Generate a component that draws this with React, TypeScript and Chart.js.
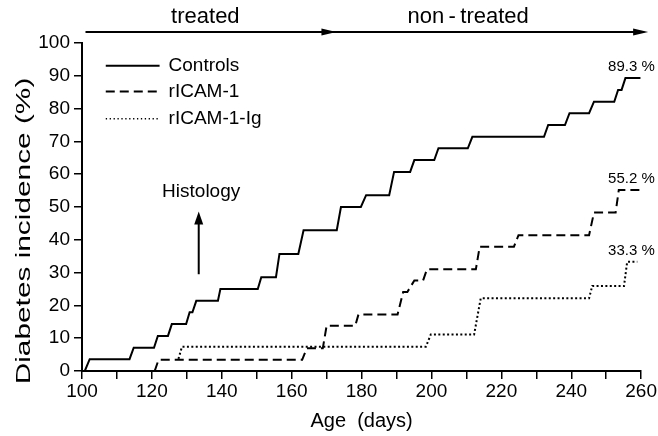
import React, { useEffect, useRef } from "react";
import { Chart, registerables } from "chart.js";

Chart.register(...registerables);

// ---- data ----
const controlsDays = [100.8, 102.2, 113.6, 114.8, 120.6, 121.7, 124.6, 125.7, 129.8, 130.8, 131.6, 132.7, 138.9, 139.6, 150.3, 151.3, 155.5, 156.5, 161.9, 163.4, 172.9, 174.1, 179.8, 181.3, 187.9, 189.3, 193.9, 195.1, 200.8, 202.0, 210.4, 211.7, 232.2, 233.4, 238.2, 239.5, 245.1, 246.5, 252.3, 253.4, 254.4, 255.5, 259.8];
const controlsPct = [0, 3.6, 3.6, 7.1, 7.1, 10.7, 10.7, 14.3, 14.3, 17.9, 17.9, 21.4, 21.4, 25.0, 25.0, 28.6, 28.6, 35.7, 35.7, 42.9, 42.9, 50.0, 50.0, 53.6, 53.6, 60.7, 60.7, 64.3, 64.3, 67.9, 67.9, 71.4, 71.4, 75.0, 75.0, 78.6, 78.6, 82.1, 82.1, 85.7, 85.7, 89.3, 89.3];

const ricamDays = [120.8, 121.9, 163.0, 164.3, 168.9, 170.0, 178.2, 179.1, 190.3, 191.9, 193.1, 195.1, 197.6, 198.7, 212.7, 213.8, 223.6, 224.9, 245.1, 246.5, 252.7, 253.6, 259.8];
const ricamPct = [0, 3.4, 3.4, 6.9, 6.9, 13.8, 13.8, 17.2, 17.2, 24.1, 24.1, 27.6, 27.6, 31.0, 31.0, 37.9, 37.9, 41.4, 41.4, 48.3, 48.3, 55.2, 55.2];

const ricamIgDays = [127.6, 128.6, 198.4, 199.8, 212.2, 214.1, 245.1, 246.0, 255.1, 256.0, 258.9];
const ricamIgPct = [3.7, 7.4, 7.4, 11.1, 11.1, 22.2, 22.2, 25.9, 25.9, 33.3, 33.3];

const seriesNames = ["Controls", "rICAM-1", "rICAM-1-Ig"];
const endLabels = ["89.3 %", "55.2 %", "33.3 %"];
const endValues = [89.3, 55.2, 33.3];
const phaseLabels = ["treated", "non\u2009-\u2009treated"];
const phaseLabelDays = [135.3, 210.5];
const phaseStartDay = 101;
const phaseEndDays = [172.8, 262];
const histologyDay = 133.4;
const histologyFrom = 29.5;
const histologyTo = 48.6;
const yTitle = "Diabetes incidence (%)";
const xTitle = "Age  (days)";

const xMin = 100;
const xMax = 260;
const xStep = 10;
const xLabelEvery = 20;
const yMin = 0;
const yMax = 100;
const yStep = 10;

const FONT = "'Liberation Sans', Arial, Helvetica, sans-serif";

const toPoints = (xs: number[], ys: number[]) => xs.map((x, i) => ({ x, y: ys[i] }));

const dashes: number[][] = [[], [9, 5], [2, 2.4]];
const widths = [2, 2, 2];

const annotPlugin = {
  id: "annot",
  afterDraw(chart: any) {
    const { ctx, chartArea, scales } = chart;
    const x = scales.x;
    const y = scales.y;
    ctx.save();
    ctx.fillStyle = "#000";
    ctx.strokeStyle = "#000";

    // phase arrows on top
    const ay = chartArea.top - 11;
    const xs = x.getPixelForValue(phaseStartDay);
    const xe = x.getPixelForValue(phaseEndDays[1]);
    ctx.lineWidth = 2;
    ctx.setLineDash([]);
    ctx.beginPath();
    ctx.moveTo(xs, ay);
    ctx.lineTo(xe - 4, ay);
    ctx.stroke();
    phaseEndDays.forEach((d) => {
      const tip = x.getPixelForValue(d);
      ctx.beginPath();
      ctx.moveTo(tip, ay);
      ctx.lineTo(tip - 15, ay - 3.5);
      ctx.lineTo(tip - 15, ay + 3.5);
      ctx.closePath();
      ctx.fill();
    });
    ctx.font = `22px ${FONT}`;
    ctx.textAlign = "center";
    ctx.textBaseline = "middle";
    phaseLabels.forEach((t, i) => {
      ctx.fillText(t, x.getPixelForValue(phaseLabelDays[i]), ay - 15);
    });

    // legend
    const legX0 = x.getPixelForValue(106.8);
    const legX1 = x.getPixelForValue(122.2);
    const legVals = [93.1, 85.2, 76.9];
    ctx.font = `19px ${FONT}`;
    ctx.textAlign = "left";
    seriesNames.forEach((name, i) => {
      const ly = y.getPixelForValue(legVals[i]);
      ctx.lineWidth = i === 2 ? 1.3 : 2;
      ctx.setLineDash(i === 2 ? [1.3, 2.6] : dashes[i]);
      ctx.beginPath();
      ctx.moveTo(legX0, ly);
      ctx.lineTo(legX1, ly);
      ctx.stroke();
      ctx.setLineDash([]);
      ctx.fillText(name, legX1 + 9, ly);
    });

    // histology arrow
    const hx = x.getPixelForValue(histologyDay);
    const hy0 = y.getPixelForValue(histologyFrom);
    const hy1 = y.getPixelForValue(histologyTo);
    ctx.lineWidth = 2;
    ctx.beginPath();
    ctx.moveTo(hx, hy0);
    ctx.lineTo(hx, hy1 + 10);
    ctx.stroke();
    ctx.beginPath();
    ctx.moveTo(hx, hy1);
    ctx.lineTo(hx - 4.5, hy1 + 13);
    ctx.lineTo(hx + 4.5, hy1 + 13);
    ctx.closePath();
    ctx.fill();
    ctx.textAlign = "center";
    ctx.fillText("Histology", x.getPixelForValue(134.1), y.getPixelForValue(54.7));

    // end labels
    ctx.font = `15px ${FONT}`;
    ctx.textAlign = "right";
    endLabels.forEach((t, i) => {
      ctx.fillText(t, x.getPixelForValue(263.9), y.getPixelForValue(endValues[i]) - 11);
    });

    // y axis title (stretched along its reading direction, as in the reference)
    ctx.translate(30, 231);
    ctx.rotate(-Math.PI / 2);
    ctx.scale(1.42, 1);
    ctx.font = `21px ${FONT}`;
    ctx.textAlign = "center";
    ctx.textBaseline = "alphabetic";
    ctx.fillText(yTitle, 0, 0);
    ctx.restore();
  },
};

export default function App() {
  const ref = useRef<HTMLCanvasElement>(null);
  useEffect(() => {
    document.body.style.margin = "0";
    const canvas = ref.current;
    if (!canvas) return;
    const series = [
      toPoints(controlsDays, controlsPct),
      toPoints(ricamDays, ricamPct),
      toPoints(ricamIgDays, ricamIgPct),
    ];
    const chart = new Chart(canvas, {
      type: "line",
      data: {
        datasets: series.map((data, i) => ({
          label: seriesNames[i],
          data,
          borderColor: "#000",
          backgroundColor: "#000",
          borderWidth: widths[i],
          borderDash: dashes[i],
          pointRadius: 0,
          tension: 0,
          fill: false,
        })),
      },
      options: {
        animation: false,
        responsive: false,
        maintainAspectRatio: false,
        layout: { padding: { top: 43, right: 15, left: 0, bottom: 0 } },
        plugins: { legend: { display: false }, tooltip: { enabled: false } },
        scales: {
          x: {
            type: "linear",
            min: xMin,
            max: xMax,
            afterFit: (s: any) => {
              s.height = 65;
            },
            ticks: {
              stepSize: xStep,
              autoSkip: false,
              maxRotation: 0,
              padding: 1,
              color: "#000",
              font: { family: FONT, size: 19 },
              callback: (v: any) => (Number(v) % xLabelEvery === 0 ? String(v) : ""),
            },
            grid: { display: true, drawOnChartArea: false, drawTicks: true, tickLength: 8, color: "#000", lineWidth: 1.5 },
            border: { display: true, color: "#000", width: 2 },
            title: {
              display: true,
              text: xTitle,
              color: "#000",
              font: { family: FONT, size: 20 },
              padding: { top: 0, bottom: 3 },
            },
          },
          y: {
            type: "linear",
            min: yMin,
            max: yMax,
            afterFit: (s: any) => {
              s.width = 82;
            },
            ticks: {
              stepSize: yStep,
              padding: 4,
              color: "#000",
              font: { family: FONT, size: 19 },
            },
            grid: { display: true, drawOnChartArea: false, drawTicks: true, tickLength: 8, color: "#000", lineWidth: 1.5 },
            border: { display: true, color: "#000", width: 2 },
            title: { display: false },
          },
        },
      },
      plugins: [annotPlugin],
    });
    return () => chart.destroy();
  }, []);
  return (
    <div style={{ position: "absolute", left: 0, top: 0, width: 658, height: 436, background: "#fff" }}>
      <canvas ref={ref} width={658} height={436} style={{ display: "block", width: 658, height: 436 }} />
    </div>
  );
}
